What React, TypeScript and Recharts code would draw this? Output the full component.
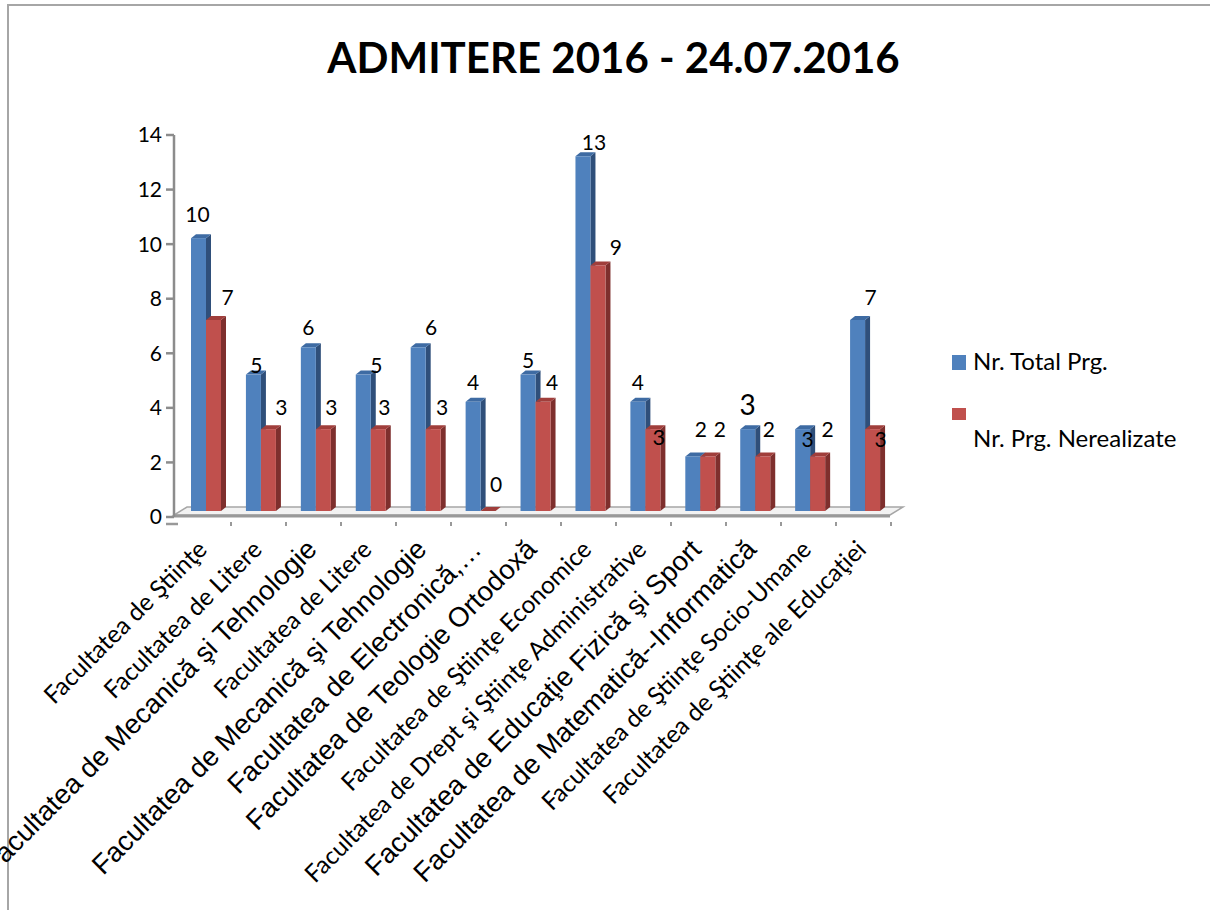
import React from "react";
import { BarChart, Bar, XAxis, YAxis, LabelList } from "recharts";

const categories = [
  "Facultatea de Ştiinţe",
  "Facultatea de Litere",
  "Facultatea de Mecanică şi Tehnologie",
  "Facultatea de Litere",
  "Facultatea de Mecanică şi Tehnologie",
  "Facultatea de Electronică,…",
  "Facultatea de Teologie Ortodoxă",
  "Facultatea de Ştiinţe Economice",
  "Facultatea de Drept şi Ştiinţe Administrative",
  "Facultatea de Educaţie Fizică şi Sport",
  "Facultatea de Matematică--Informatică",
  "Facultatea de Ştiinţe Socio-Umane",
  "Facultatea de Ştiinţe ale Educaţiei",
];
const totalPrg = [10, 5, 6, 5, 6, 4, 5, 13, 4, 2, 3, 3, 7];
const nerealizate = [7, 3, 3, 3, 3, 0, 4, 9, 3, 2, 2, 2, 3];
const yTicks = [0, 2, 4, 6, 8, 10, 12, 14];

const data = categories.map((name, i) => ({
  name,
  total: totalPrg[i],
  nerealizate: nerealizate[i],
}));

// labels drawn in the bigger Arial-like face
const bigLabelIdx = [2, 4, 5, 6, 9, 10];

// data label nudges [dx from bar centre, baseline vs. bar top, font size]
const totalNudge = [
  [-1, -16, 21], [3, -2, 21], [0, -12, 21], [13, -2, 21], [13, -12, 21],
  [0, -12, 21], [0, -7, 21], [11, -6, 21], [0, -12, 21], [8, -19, 21],
  [0, -14, 28], [5, 18, 21], [13, -15, 21],
];
const nerealNudge = [
  [14, -15, 21], [13, -14, 21], [8, -14, 21], [6, -14, 21], [9, -14, 21],
  [8, -19, 21], [9, -12, 21], [18, -10, 21], [6, 16, 22], [12, -19, 21],
  [6, -19, 21], [10, -19, 21], [8, 18, 21],
];

const LIFT = 6;
const DX = 5;
const DY = 4;

const make3DBar = (front: string, side: string, top: string) => (props: any) => {
  const { x, y, width, height } = props;
  const t = y - LIFT;
  const b = y + height - LIFT;
  return (
    <g>
      <polygon
        points={`${x + width},${t} ${x + width + DX},${t - DY} ${x + width + DX},${b - DY} ${x + width},${b}`}
        fill={side}
      />
      <polygon
        points={`${x},${t} ${x + DX},${t - DY} ${x + width + DX},${t - DY} ${x + width},${t}`}
        fill={top}
      />
      <rect x={x} y={t} width={width} height={Math.max(height, 0)} fill={front} />
    </g>
  );
};

const makeLabel = (nudge: number[][]) => (props: any) => {
  const { x, y, width, value, index } = props;
  const [dx, dy, fs] = nudge[index] || [0, -12, 21];
  return (
    <text
      x={x + width / 2 + dx}
      y={y - LIFT + dy}
      textAnchor="middle"
      fontFamily="Lato"
      fontSize={fs}
      fill="#000"
    >
      {value}
    </text>
  );
};

const CategoryTick = (props: any) => {
  const { x, y, payload, index } = props;
  const big = bigLabelIdx.includes(index);
  return (
    <g transform={`translate(${x + 2},${y + 26}) rotate(-45)`}>
      <text
        textAnchor="end"
        fontFamily={big ? "Liberation Sans" : "Lato"}
        fontSize={big ? 27.5 : 24.5}
        fill="#000"
      >
        {payload.value}
      </text>
    </g>
  );
};

const tickMarks = [230, 285, 340, 395, 450, 505, 560, 615, 670, 725, 780, 835, 890];

export default function App() {
  return (
    <div style={{ position: "absolute", left: 0, top: 0, width: 1210, height: 910, background: "#fff", overflow: "hidden" }}>
      <div
        style={{
          position: "absolute",
          left: 7,
          top: 4,
          right: 0,
          bottom: 0,
          borderTop: "2px solid #a6a6a6",
          borderLeft: "2px solid #a6a6a6",
        }}
      />
      {/* floor of the 3D plot */}
      <svg style={{ position: "absolute", left: 0, top: 0 }} width={1210} height={910}>
        <polygon points="174,515 890,515 903,507 187,507" fill="#f2f2f2" stroke="#a6a6a6" strokeWidth={1.5} />
        <line x1={174} y1={516} x2={890} y2={516} stroke="#999" strokeWidth={3} />
        <line x1={166} y1={524} x2={178} y2={524} stroke="#999" strokeWidth={2.5} />
        {tickMarks.map((tx, i) => (
          <rect key={i} x={tx} y={522} width={2} height={4} fill="#999" />
        ))}
      </svg>
      <div
        style={{
          position: "absolute",
          left: 0,
          width: 1227,
          top: 32,
          textAlign: "center",
          fontFamily: "Lato",
          fontWeight: "bold",
          fontSize: 42,
          lineHeight: "normal",
          color: "#000",
        }}
      >
        ADMITERE 2016 - 24.07.2016
      </div>
      <div style={{ position: "absolute", left: 0, top: 0 }}>
        <BarChart
          width={1210}
          height={910}
          data={data}
          margin={{ top: 135, right: 305, bottom: 13, left: 0 }}
          barSize={15}
          barGap={0}
        >
          <XAxis
            dataKey="name"
            height={380}
            padding={{ left: 5, right: 12 }}
            axisLine={false}
            tickLine={false}
            interval={0}
            tick={<CategoryTick />}
          />
          <YAxis
            width={174}
            domain={[0, 14]}
            ticks={yTicks}
            interval={0}
            tickSize={8}
            tickMargin={4}
            axisLine={{ stroke: "#8c8c8c", strokeWidth: 2.5 }}
            tickLine={{ stroke: "#8c8c8c", strokeWidth: 2.5 }}
            tick={{ fontFamily: "Lato", fontSize: 21, fill: "#000" }}
          />
          <Bar
            dataKey="total"
            name="Nr. Total Prg."
            fill="#4F81BD"
            isAnimationActive={false}
            shape={make3DBar("#4F81BD", "#2F4F7A", "#3E6BA3")}
          >
            <LabelList dataKey="total" content={makeLabel(totalNudge)} />
          </Bar>
          <Bar
            dataKey="nerealizate"
            name="Nr. Prg. Nerealizate"
            fill="#C0504D"
            isAnimationActive={false}
            shape={make3DBar("#C0504D", "#7E2F2D", "#A03E3B")}
          >
            <LabelList dataKey="nerealizate" content={makeLabel(nerealNudge)} />
          </Bar>
        </BarChart>
      </div>
      {/* legend */}
      <div style={{ position: "absolute", left: 952, top: 355, width: 14, height: 15, background: "#4F81BD" }} />
      <div style={{ position: "absolute", left: 973, top: 346, fontFamily: "Lato", fontSize: 24, lineHeight: "normal", color: "#000", whiteSpace: "nowrap" }}>
        Nr. Total Prg.
      </div>
      <div style={{ position: "absolute", left: 952, top: 408, width: 14, height: 12, background: "#C0504D" }} />
      <div style={{ position: "absolute", left: 973, top: 423, fontFamily: "Lato", fontSize: 24, lineHeight: "normal", color: "#000", whiteSpace: "nowrap" }}>
        Nr. Prg. Nerealizate
      </div>
    </div>
  );
}
